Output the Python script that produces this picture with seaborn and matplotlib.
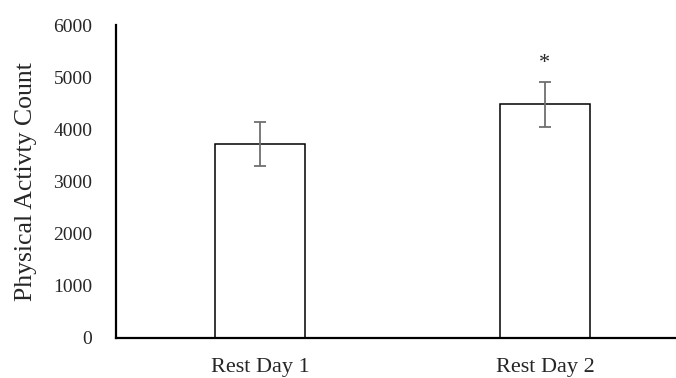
import matplotlib
matplotlib.use("Agg")
import matplotlib.pyplot as plt
import seaborn as sns
import pandas as pd

categories = ["Rest Day 1", "Rest Day 2"]
means = [3710, 4480]
errors = [420, 430]
annotations = ["", "*"]

sns.set_theme(style="white")
plt.rcParams["font.family"] = ["Liberation Serif", "DejaVu Serif"]

df = pd.DataFrame({"day": categories, "count": means})

fig = plt.figure(figsize=(6.76, 3.78), dpi=100)
ax = fig.add_axes([116 / 676, 1 - 337.5 / 378, 1 - 116 / 676, (337.5 - 25) / 378])

sns.barplot(data=df, x="day", y="count", ax=ax, color="white",
            edgecolor="black", linewidth=1.1, width=0.315, errorbar=None,
            saturation=1)
ax.errorbar(range(len(categories)), means, yerr=errors, fmt="none",
            ecolor="#6f6f6f", elinewidth=1.3, capsize=4, capthick=1.3, zorder=5)

for i, (m, e, a) in enumerate(zip(means, errors, annotations)):
    if a:
        ax.text(i, m + e + 350, a, ha="center", va="center", fontsize=16)

ax.set_ylim(0, 6000)
ax.set_xlim(-0.505, 1.46)
ax.set_yticks([0, 1000, 2000, 3000, 4000, 5000, 6000])
ax.tick_params(axis="y", labelsize=14, length=0, pad=17)
ax.tick_params(axis="x", labelsize=16, length=0, pad=15)
ax.set_xlabel("")
ax.set_ylabel("Physical Activty Count", fontsize=18.5, labelpad=12)
for s in ["top", "right"]:
    ax.spines[s].set_visible(False)
for s in ["left", "bottom"]:
    ax.spines[s].set_color("black")
    ax.spines[s].set_linewidth(1.6)

fig.savefig("out.png", dpi=100)
